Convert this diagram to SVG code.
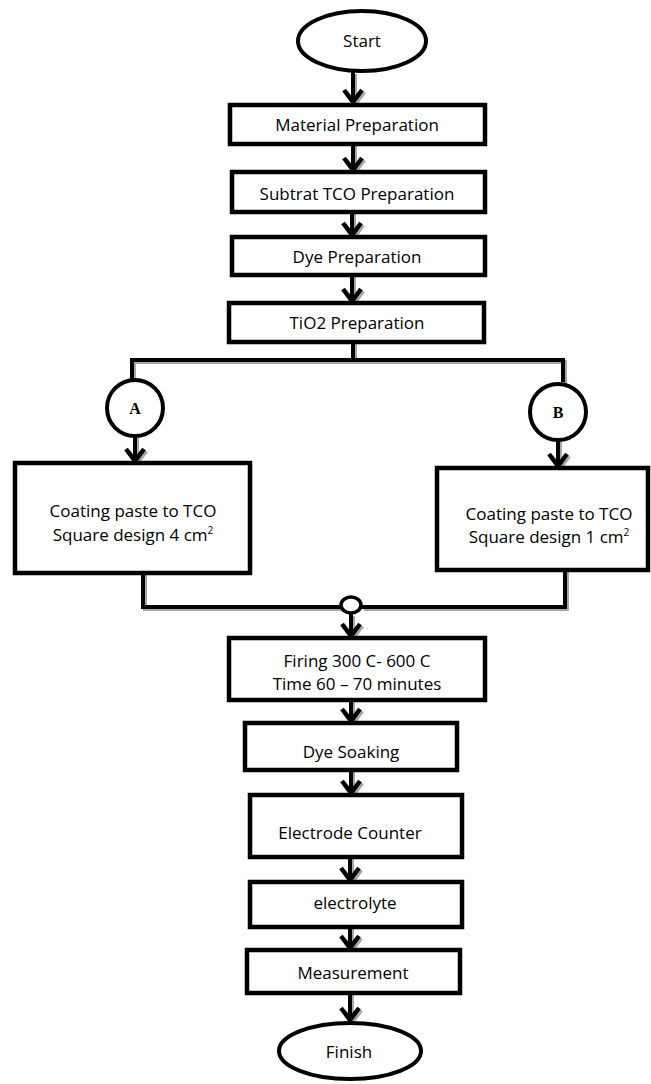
<svg xmlns="http://www.w3.org/2000/svg" xmlns:xlink="http://www.w3.org/1999/xlink" width="651" height="1084" viewBox="0 0 651 1084">
<style>
.box{fill:#fff;stroke:#000;stroke-width:4.5}
.term{fill:#fff;stroke:#000;stroke-width:4}
.t{font-family:"Open Sans","Liberation Sans",sans-serif;font-size:17px;fill:#000;text-anchor:middle}
.lab{font-family:"Liberation Serif",serif;font-size:16px;font-weight:bold;fill:#000;text-anchor:middle}
.sup{font-size:10px}
</style>
<defs>
<path id="ah" d="M-9,-14 L0,-2 L9,-14" fill="none" stroke-width="4.5" stroke-linejoin="miter"/>
</defs>
<g id="connectors" fill="none" stroke-width="4">
<use xlink:href="#conn" href="#conn" transform="translate(2,2)" stroke="#a8a8a8"/>
<g stroke="#000"><g id="conn">
<path d="M353,72 V103"/><use xlink:href="#ah" href="#ah" x="353" y="104"/>
<path d="M353,144 V171"/><use xlink:href="#ah" href="#ah" x="353" y="172"/>
<path d="M352,212 V236"/><use xlink:href="#ah" href="#ah" x="352" y="237"/>
<path d="M352,275 V302"/><use xlink:href="#ah" href="#ah" x="352" y="303"/>
<path d="M353,342 V360 M132,380 V360 H563 V382"/>
<path d="M135,436 V462"/><use xlink:href="#ah" href="#ah" x="135" y="463"/>
<path d="M558,440 V467"/><use xlink:href="#ah" href="#ah" x="558" y="468"/>
<path d="M143,573 V607 H340 M362,607 H565 V570"/>
<path d="M351,614 V637"/><use xlink:href="#ah" href="#ah" x="351" y="638"/>
<path d="M351,700 V722"/><use xlink:href="#ah" href="#ah" x="351" y="723"/>
<path d="M351,770 V794"/><use xlink:href="#ah" href="#ah" x="351" y="795"/>
<path d="M350,857 V881"/><use xlink:href="#ah" href="#ah" x="350" y="882"/>
<path d="M350,927 V949"/><use xlink:href="#ah" href="#ah" x="350" y="950"/>
<path d="M350,993 V1021"/><use xlink:href="#ah" href="#ah" x="350" y="1022"/>
</g></g>
</g>
<g id="start"><ellipse class="term" cx="362" cy="41" rx="64" ry="30"/><text class="t" x="362" y="47">Start</text></g>
<g id="material"><rect class="box" x="230" y="105" width="255" height="39"/><text class="t" x="357" y="131">Material Preparation</text></g>
<g id="subtrat"><rect class="box" x="232" y="172" width="253" height="40"/><text class="t" x="357" y="200">Subtrat TCO Preparation</text></g>
<g id="dye"><rect class="box" x="232" y="237" width="253" height="38"/><text class="t" x="357" y="263">Dye Preparation</text></g>
<g id="tio2"><rect class="box" x="229" y="303" width="255" height="39"/><text class="t" x="357" y="329">TiO2 Preparation</text></g>
<g id="connA"><circle class="term" cx="135" cy="408" r="28"/><text class="lab" x="135" y="414">A</text></g>
<g id="connB"><circle class="term" cx="558" cy="412" r="28"/><text class="lab" x="558" y="418">B</text></g>
<g id="coatA"><rect class="box" x="15" y="463" width="235" height="110"/><text class="t" x="133" y="517">Coating paste to TCO</text><text class="t" x="133" y="541">Square design 4 cm<tspan class="sup" dy="-7">2</tspan></text></g>
<g id="coatB"><rect class="box" x="437" y="468" width="211" height="102"/><text class="t" x="549" y="520">Coating paste to TCO</text><text class="t" x="549" y="543">Square design 1 cm<tspan class="sup" dy="-7">2</tspan></text></g>
<g id="join"><ellipse cx="351" cy="605" rx="10" ry="8" fill="#fff" stroke="#000" stroke-width="3.5"/></g>
<g id="firing"><rect class="box" x="229" y="638" width="256" height="62"/><text class="t" x="357" y="667">Firing 300 C- 600 C</text><text class="t" x="357" y="690">Time 60 – 70 minutes</text></g>
<g id="soaking"><rect class="box" x="245" y="723" width="212" height="47"/><text class="t" x="351" y="758">Dye Soaking</text></g>
<g id="counter"><rect class="box" x="250" y="795" width="212" height="62"/><text class="t" x="350" y="839">Electrode Counter</text></g>
<g id="electrolyte"><rect class="box" x="250" y="882" width="212" height="45"/><text class="t" x="355" y="909">electrolyte</text></g>
<g id="measurement"><rect class="box" x="247" y="950" width="213" height="43"/><text class="t" x="353" y="979">Measurement</text></g>
<g id="finish"><ellipse class="term" cx="350" cy="1051" rx="71" ry="28"/><text class="t" x="349" y="1058">Finish</text></g>
</svg>
